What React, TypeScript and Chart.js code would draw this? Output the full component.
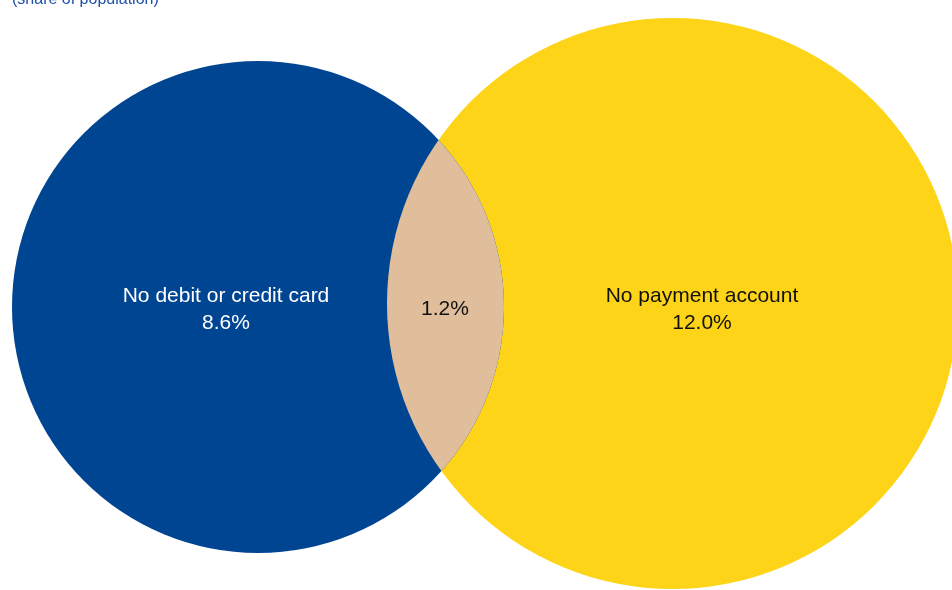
import React, { useEffect, useRef } from "react";
import { Chart, registerables } from "chart.js";

Chart.register(...registerables);

// ---- data ----
const subtitle = "(share of population)";
const setLabels = ["No debit or credit card", "No payment account"];
const setOnlyValues = [8.6, 12.0]; // share only in each set
const overlapValue = 1.2; // share in both sets

// ---- layout (data units = canvas pixels) ----
const circleCenters = [
  { x: 258, y: 307 },
  { x: 672.5, y: 303.5 },
];
const circleRadii = [246, 285.5];
const labelCenters = [
  { x: 226, y: 309 },
  { x: 702, y: 309 },
];
const overlapLabelPos = { x: 445, y: 309 };

const colors = ["#004592", "#FDD417"];
const lensColor = "#E0BE9B";
const textColors = ["#ffffff", "#111111"];

const W = 952;
const H = 590;

export default function App() {
  const ref = useRef<HTMLCanvasElement | null>(null);

  useEffect(() => {
    const canvas = ref.current;
    if (!canvas) return;

    const radiusFromScale = (ctx: any, r: number) => {
      const xs = ctx.chart.scales.x;
      return Math.abs(xs.getPixelForValue(r) - xs.getPixelForValue(0));
    };

    const vennPlugin = {
      id: "venn",
      afterDatasetsDraw(chart: any) {
        const c = chart.ctx;
        const xs = chart.scales.x;
        const ys = chart.scales.y;
        const px = (v: number) => xs.getPixelForValue(v);
        const py = (v: number) => ys.getPixelForValue(v);
        const pr = (r: number) => Math.abs(px(r) - px(0));

        // lens (intersection)
        c.save();
        c.beginPath();
        c.arc(px(circleCenters[0].x), py(circleCenters[0].y), pr(circleRadii[0]), 0, Math.PI * 2);
        c.clip();
        c.beginPath();
        c.arc(px(circleCenters[1].x), py(circleCenters[1].y), pr(circleRadii[1]), 0, Math.PI * 2);
        c.fillStyle = lensColor;
        c.fill();
        c.restore();

        // labels
        c.save();
        c.font = "21px 'Liberation Sans', Arial, sans-serif";
        c.textAlign = "center";
        c.textBaseline = "middle";
        setLabels.forEach((lab, i) => {
          c.fillStyle = textColors[i];
          const x = px(labelCenters[i].x);
          const y = py(labelCenters[i].y);
          c.fillText(lab, x, y - 13);
          c.fillText(setOnlyValues[i].toFixed(1) + "%", x, y + 14);
        });
        c.fillStyle = "#111111";
        c.fillText(overlapValue.toFixed(1) + "%", px(overlapLabelPos.x), py(overlapLabelPos.y));

        // subtitle (cut off at top)
        c.font = "16px 'Liberation Sans', Arial, sans-serif";
        c.textAlign = "left";
        c.textBaseline = "alphabetic";
        c.fillStyle = "#1F4FA8";
        c.fillText(subtitle, 12, 4);
        c.restore();
      },
    };

    const chart = new Chart(canvas, {
      type: "bubble",
      data: {
        datasets: setLabels.map((lab, i) => ({
          label: lab,
          data: [{ x: circleCenters[i].x, y: circleCenters[i].y, r: circleRadii[i] }],
          backgroundColor: colors[i],
          borderWidth: 0,
          radius: (ctx: any) => radiusFromScale(ctx, circleRadii[i]),
          hoverRadius: 0,
        })),
      },
      options: {
        responsive: false,
        animation: false,
        devicePixelRatio: 1,
        layout: { padding: 0, autoPadding: false },
        events: [],
        plugins: {
          legend: { display: false },
          tooltip: { enabled: false },
          title: { display: false },
        },
        scales: {
          x: { type: "linear", min: 0, max: W, display: false },
          y: { type: "linear", min: 0, max: H, reverse: true, display: false },
        },
        clip: false as any,
      },
      plugins: [vennPlugin],
    } as any);

    return () => chart.destroy();
  }, []);

  return (
    <div style={{ position: "fixed", left: 0, top: 0, width: W, height: H, background: "#fff" }}>
      <canvas ref={ref} width={W} height={H} style={{ display: "block", width: W, height: H }} />
    </div>
  );
}
